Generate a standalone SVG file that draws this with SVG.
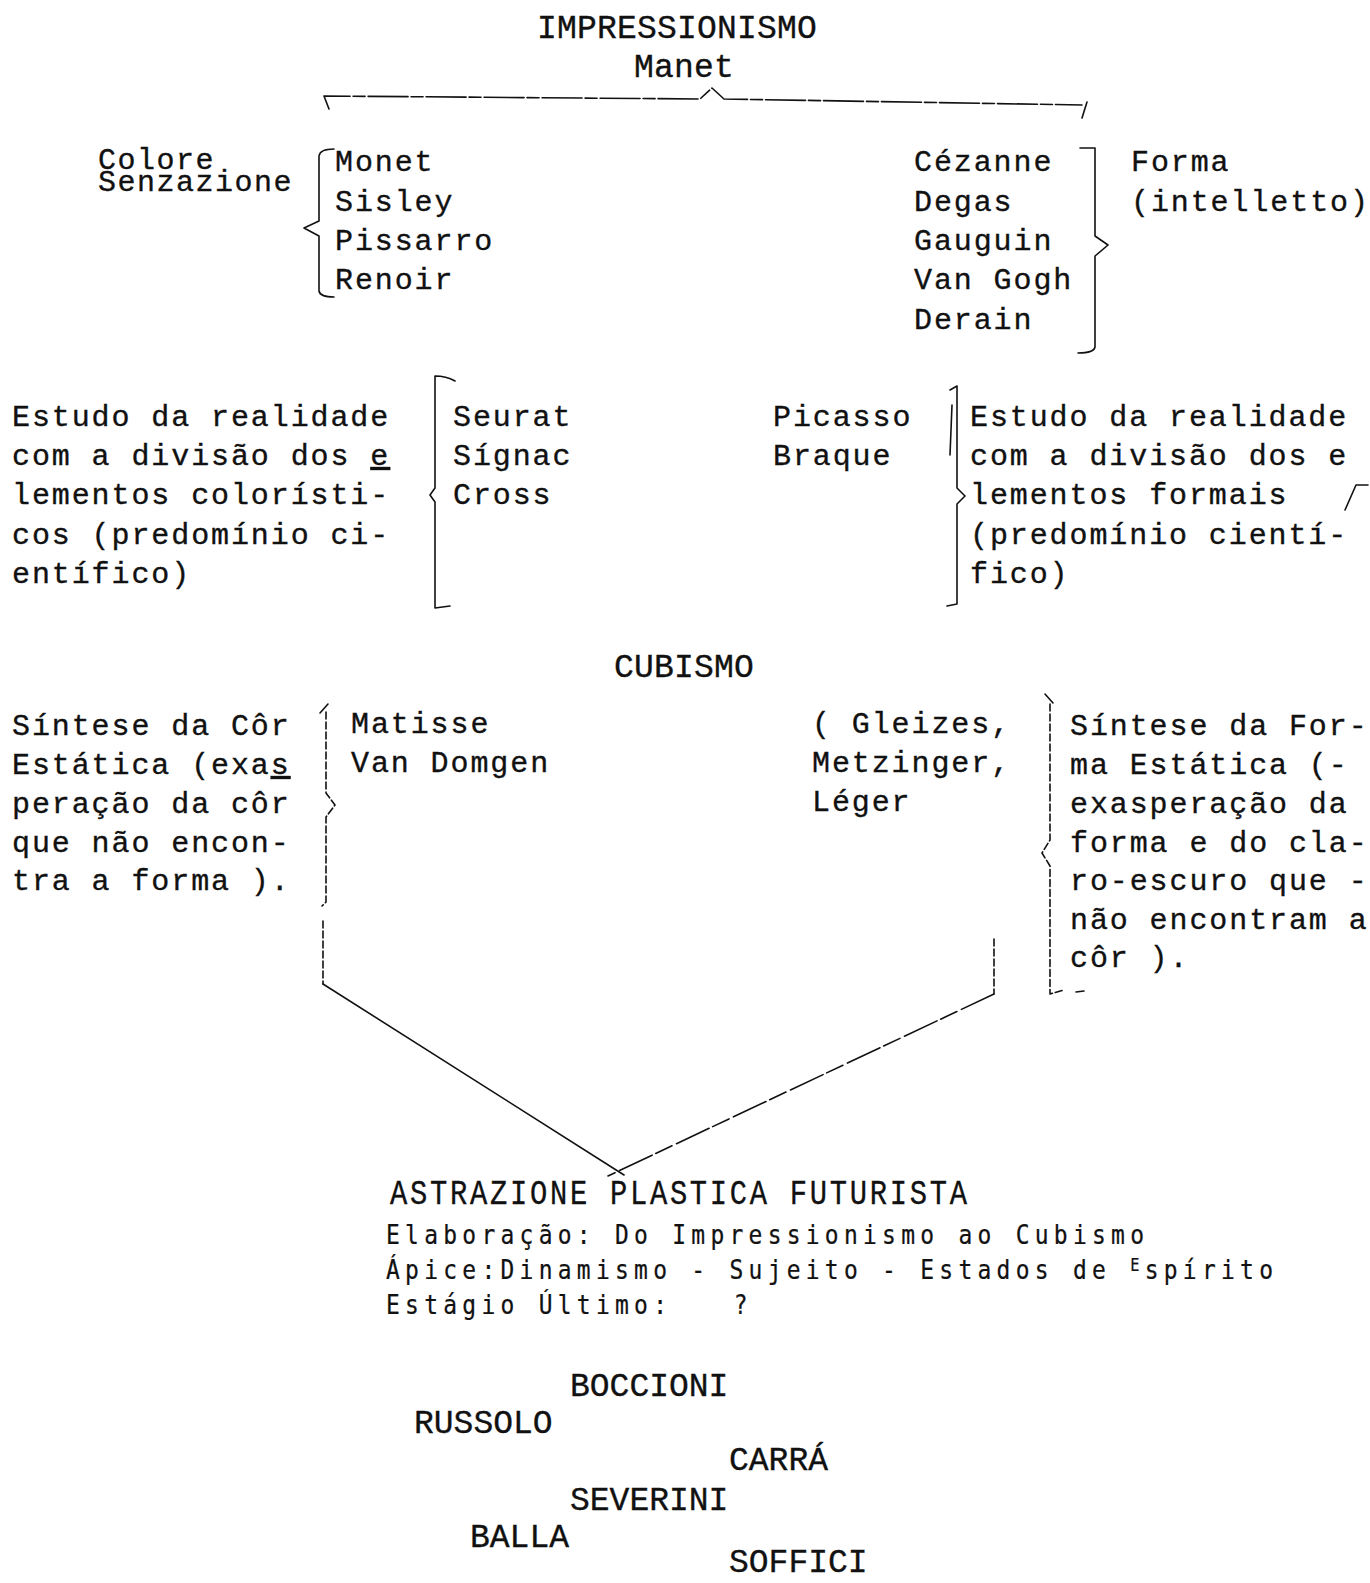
<svg xmlns="http://www.w3.org/2000/svg" width="1370" height="1583" viewBox="0 0 1370 1583">
<style>
.t{font-family:"Liberation Mono","DejaVu Sans Mono",monospace;font-size:30px;letter-spacing:1.9px;fill:#111;stroke:#111;stroke-width:0.35}
.h{font-size:33px;letter-spacing:0.2px}
.n{font-size:33px;letter-spacing:0px}
.a{font-size:36px;letter-spacing:3.4px}
.c{font-family:"DejaVu Sans Mono",monospace;font-size:27px;letter-spacing:6.2px;stroke-width:0.25}
.ln{fill:none;stroke:#111;stroke-width:1.6;stroke-linecap:round;stroke-linejoin:round}
.ds{stroke-dasharray:7 3}
</style>
<rect width="1370" height="1583" fill="#fff"/>

<g id="impressionismo">
<text class="t h" x="537" y="38">IMPRESSIONISMO</text>
<text class="t h" x="634" y="77">Manet</text>
</g>

<g id="colore-senzazione">
<text class="t" x="98" y="169" style="letter-spacing:1.5px">Colore</text>
<text class="t" x="98" y="191" style="letter-spacing:1.5px">Senzazione</text>
</g>

<g id="monet-group">
<text class="t" x="335" y="171">Monet</text>
<text class="t" x="335" y="211">Sisley</text>
<text class="t" x="335" y="250">Pissarro</text>
<text class="t" x="335" y="289">Renoir</text>
</g>

<g id="cezanne-group">
<text class="t" x="914" y="171">Cézanne</text>
<text class="t" x="914" y="211">Degas</text>
<text class="t" x="914" y="250">Gauguin</text>
<text class="t" x="914" y="289">Van Gogh</text>
<text class="t" x="914" y="329">Derain</text>
</g>

<g id="forma">
<text class="t" x="1131" y="171">Forma</text>
<text class="t" x="1131" y="211">(intelletto)</text>
</g>

<g id="estudo-coloristico">
<text class="t" x="12" y="426">Estudo da realidade</text>
<text class="t" x="12" y="465">com a divisão dos <tspan text-decoration="underline">e</tspan></text>
<text class="t" x="12" y="504">lementos colorísti-</text>
<text class="t" x="12" y="544">cos (predomínio ci-</text>
<text class="t" x="12" y="583">entífico)</text>
</g>

<g id="seurat-group">
<text class="t" x="453" y="426">Seurat</text>
<text class="t" x="453" y="465">Sígnac</text>
<text class="t" x="453" y="504">Cross</text>
</g>

<g id="picasso-group">
<text class="t" x="773" y="426">Picasso</text>
<text class="t" x="773" y="465">Braque</text>
</g>

<g id="estudo-formal">
<text class="t" x="970" y="426">Estudo da realidade</text>
<text class="t" x="970" y="465">com a divisão dos e</text>
<text class="t" x="970" y="504">lementos formais</text>
<text class="t" x="970" y="544">(predomínio cientí-</text>
<text class="t" x="970" y="583">fico)</text>
</g>

<g id="cubismo">
<text class="t h" x="614" y="677">CUBISMO</text>
</g>

<g id="sintese-cor">
<text class="t" x="12" y="735">Síntese da Côr</text>
<text class="t" x="12" y="774">Estática (exa<tspan text-decoration="underline">s</tspan></text>
<text class="t" x="12" y="813">peração da côr</text>
<text class="t" x="12" y="852">que não encon-</text>
<text class="t" x="12" y="890">tra a forma ).</text>
</g>

<g id="matisse-group">
<text class="t" x="351" y="733">Matisse</text>
<text class="t" x="351" y="772">Van Domgen</text>
</g>

<g id="gleizes-group">
<text class="t" x="812" y="733">( Gleizes,</text>
<text class="t" x="812" y="772">Metzinger,</text>
<text class="t" x="812" y="811">Léger</text>
</g>

<g id="sintese-forma">
<text class="t" x="1070" y="735">Síntese da For-</text>
<text class="t" x="1070" y="774">ma Estática (-</text>
<text class="t" x="1070" y="813">exasperação da</text>
<text class="t" x="1070" y="852">forma e do cla-</text>
<text class="t" x="1070" y="890">ro-escuro que -</text>
<text class="t" x="1070" y="929">não encontram a</text>
<text class="t" x="1070" y="967">côr ).</text>
</g>

<g id="astrazione">
<g transform="translate(390,0) scale(0.8,1)">
<text class="t a" x="0" y="1204">ASTRAZIONE PLASTICA FUTURISTA</text>
</g>
<g transform="translate(386,0) scale(0.85,1)">
<text class="t c" x="0" y="1244">Elaboração: Do Impressionismo ao Cubismo</text>
<text class="t c" x="0" y="1279">Ápice:Dinamismo - Sujeito - Estados de <tspan font-size="18" dy="-8">E</tspan><tspan dy="8">spírito</tspan></text>
<text class="t c" x="0" y="1314">Estágio Último:<tspan x="409">?</tspan></text>
</g>
</g>

<g id="futuristi">
<text class="t n" x="570" y="1396">BOCCIONI</text>
<text class="t n" x="414" y="1433">RUSSOLO</text>
<text class="t n" x="729" y="1470">CARRÁ</text>
<text class="t n" x="570" y="1510">SEVERINI</text>
<text class="t n" x="470" y="1547">BALLA</text>
<text class="t n" x="729" y="1572">SOFFICI</text>
</g>

<g id="connectors">
<path class="ln" d="M329,109 L324,96 L700,99 L712,88 L724,99 L1082,105" stroke-dasharray="40 3 12 3"/>
<path class="ln" d="M1082,118 L1087,102"/>
<path class="ln" d="M334,149 Q320,149 319,156 L319,221 L304,228 L319,236 L319,291 Q320,297 334,297"/>
<path class="ln" d="M1080,148 L1095,148 L1095,236 L1108,245 L1095,256 L1095,347 Q1094,353 1078,353"/>
<path class="ln" d="M455,381 Q446,376 435,376 L435,488 L430,495 L435,502 L435,608 L450,606"/>
<path class="ln" d="M950,390 L957,386 L957,488 L965,496 L957,504 L957,604 L947,606"/>
<path class="ln" d="M952,405 L950,455"/>
<path class="ln" d="M1345,510 L1356,485 L1368,485"/>
<path class="ln" d="M320,713 L328,704"/>
<path class="ln ds" d="M326,712 L326,793 L335,805 L326,817 L326,902 L322,906"/>
<path class="ln" d="M1045,694 L1053,703"/>
<path class="ln ds" d="M1050,704 L1050,840 L1042,853 L1050,866 L1050,994 L1064,990"/>
<path class="ln" d="M1076,992 L1084,991"/>
<path class="ln ds" d="M323,921 L323,984"/>
<path class="ln" d="M323,984 L624,1175"/>
<path class="ln ds" d="M994,939 L994,994"/>
<path class="ln" d="M994,994 L608,1176" stroke-dasharray="36 5 18 4"/>
</g>
</svg>
